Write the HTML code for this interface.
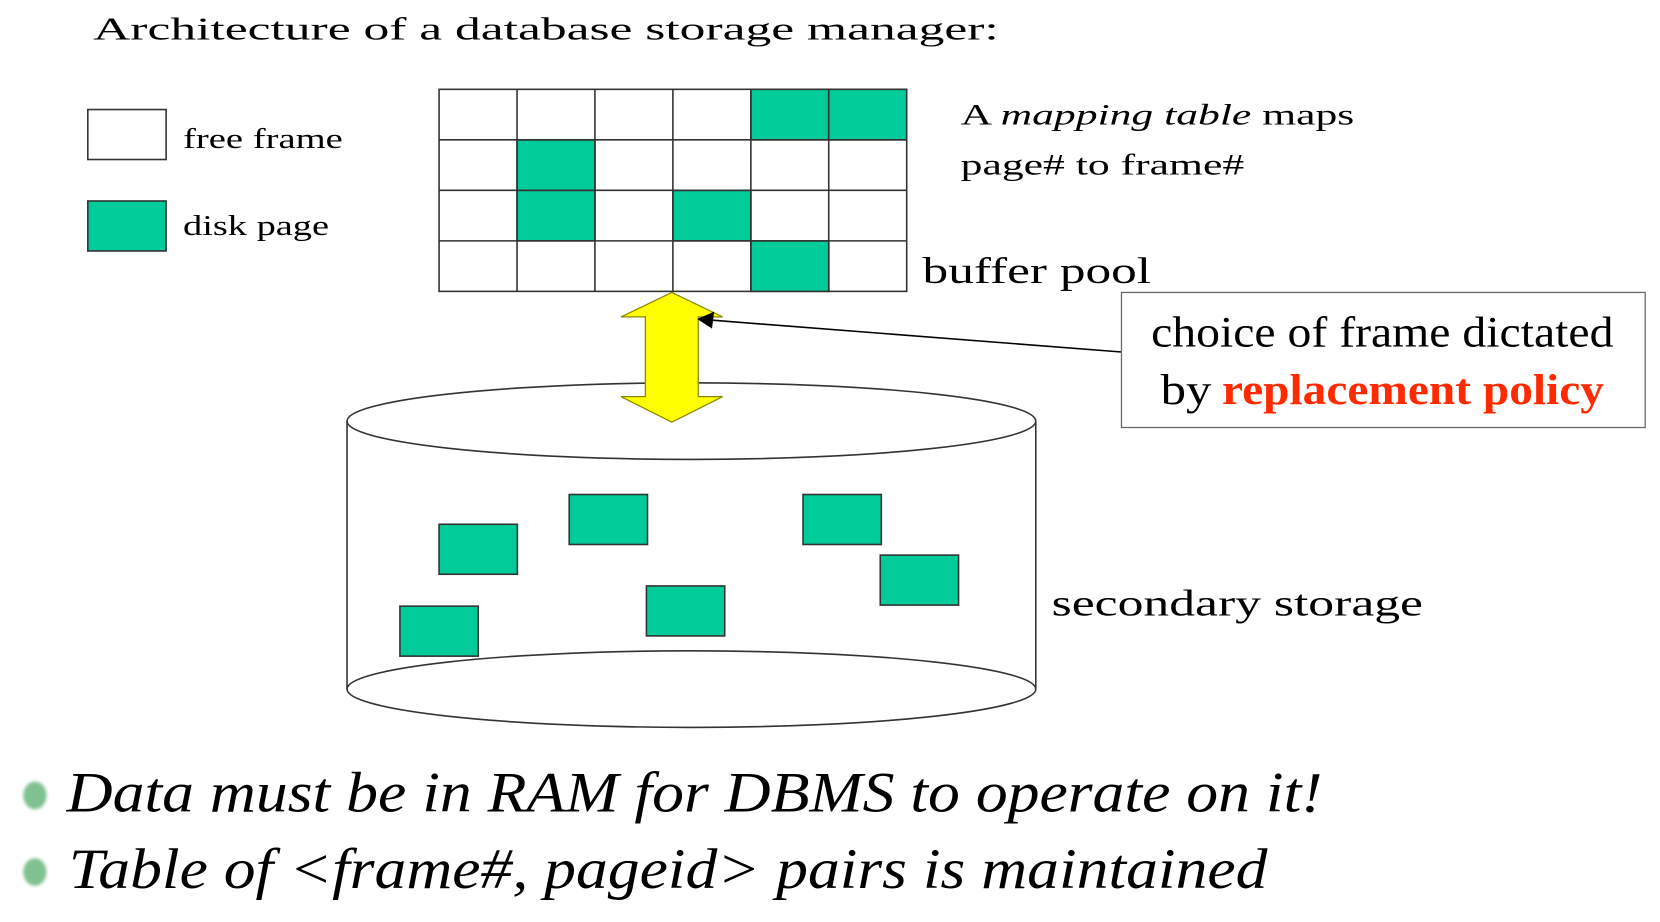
<!DOCTYPE html>
<html><head><meta charset="utf-8"><style>
html,body{margin:0;padding:0;background:#fff;width:1660px;height:922px;overflow:hidden}
svg{display:block}
text{font-family:"Liberation Serif","Times New Roman",Times,serif;fill:#000}
</style></head><body>
<svg width="1660" height="922" viewBox="0 0 1569 867" preserveAspectRatio="none" xmlns="http://www.w3.org/2000/svg" font-family="Liberation Serif, serif">
<defs><filter id="bl"><feGaussianBlur stdDeviation="1.5"/></filter></defs>
<text x="88" y="37" font-size="30" textLength="856" lengthAdjust="spacingAndGlyphs">Architecture of a database storage manager:</text>
<rect x="83" y="103" width="74" height="47" fill="#fff" stroke="#333" stroke-width="1.5"/>
<rect x="83" y="189" width="74" height="47" fill="#00cc99" stroke="#333" stroke-width="1.5"/>
<text x="173" y="139" font-size="27" textLength="151" lengthAdjust="spacingAndGlyphs">free frame</text>
<text x="173" y="221" font-size="27" textLength="138" lengthAdjust="spacingAndGlyphs">disk page</text>
<g stroke="#333" stroke-width="1.5">
<rect x="415" y="84" width="442" height="190" fill="#fff"/>
<g fill="#00cc99">
<rect x="709.7" y="84" width="73.7" height="47.5"/><rect x="783.3" y="84" width="73.7" height="47.5"/>
<rect x="488.7" y="131.5" width="73.7" height="47.5"/>
<rect x="488.7" y="179" width="73.7" height="47.5"/><rect x="636" y="179" width="73.7" height="47.5"/>
<rect x="709.7" y="226.5" width="73.7" height="47.5"/>
</g>
<line x1="488.7" y1="84" x2="488.7" y2="274"/><line x1="562.3" y1="84" x2="562.3" y2="274"/>
<line x1="636" y1="84" x2="636" y2="274"/><line x1="709.7" y1="84" x2="709.7" y2="274"/>
<line x1="783.3" y1="84" x2="783.3" y2="274"/>
<line x1="415" y1="131.5" x2="857" y2="131.5"/><line x1="415" y1="179" x2="857" y2="179"/>
<line x1="415" y1="226.5" x2="857" y2="226.5"/>
</g>
<text x="908" y="117" font-size="28" textLength="372" lengthAdjust="spacingAndGlyphs">A <tspan font-style="italic">mapping table</tspan> maps</text>
<text x="908" y="164" font-size="28" textLength="268" lengthAdjust="spacingAndGlyphs">page# to frame#</text>
<text x="872" y="266" font-size="35" textLength="216" lengthAdjust="spacingAndGlyphs">buffer pool</text>
<path d="M328 396 L328 648 M979 396 L979 648" stroke="#333" stroke-width="1.5" fill="none"/>
<ellipse cx="653.5" cy="648" rx="325.5" ry="36" fill="#fff" stroke="#333" stroke-width="1.5"/>
<rect x="329" y="396" width="649" height="252" fill="#fff"/>
<path d="M328 648 A325.5 36 0 0 1 979 648" stroke="#333" stroke-width="1.5" fill="none"/>
<ellipse cx="653.5" cy="396" rx="325.5" ry="36" fill="#fff" stroke="#333" stroke-width="1.5"/>
<g fill="#00cc99" stroke="#333" stroke-width="1.5">
<rect x="415" y="493" width="74" height="47"/><rect x="538" y="465" width="74" height="47"/>
<rect x="759" y="465" width="74" height="47"/><rect x="832" y="522" width="74" height="47"/>
<rect x="611" y="551" width="74" height="47"/><rect x="378" y="570" width="74" height="47"/>
</g>
<text x="994" y="579" font-size="35" textLength="351" lengthAdjust="spacingAndGlyphs">secondary storage</text>
<polygon points="635,275 683,298 660,298 660,373 683,373 635,397 587,373 610,373 610,298 587,298" fill="#ffff00" stroke="#888800" stroke-width="1.2"/>
<line x1="1060" y1="331" x2="672" y2="301" stroke="#000" stroke-width="1.5"/>
<polygon points="659,300 675,293 673,309" fill="#000"/>
<rect x="1060" y="275" width="495" height="127" fill="#fff" stroke="#666" stroke-width="1.2"/>
<text x="1088" y="326" font-size="41" textLength="437" lengthAdjust="spacingAndGlyphs">choice of frame dictated</text>
<text x="1097" y="380" font-size="41" textLength="48" lengthAdjust="spacingAndGlyphs">by</text>
<text x="1155" y="380" font-size="41" font-weight="bold" style="fill:#ff2a00" textLength="361" lengthAdjust="spacingAndGlyphs">replacement policy</text>
<ellipse cx="33" cy="748" rx="11" ry="13" fill="#7fc190" filter="url(#bl)"/>
<ellipse cx="33" cy="820" rx="11" ry="13" fill="#7fc190" filter="url(#bl)"/>
<text x="63" y="763" font-size="54" font-style="italic" textLength="1187" lengthAdjust="spacingAndGlyphs">Data must be in RAM for DBMS to operate on it!</text>
<text x="65" y="835" font-size="54" font-style="italic" textLength="1133" lengthAdjust="spacingAndGlyphs">Table of &lt;frame#, pageid&gt; pairs is maintained</text>
</svg>
</body></html>
